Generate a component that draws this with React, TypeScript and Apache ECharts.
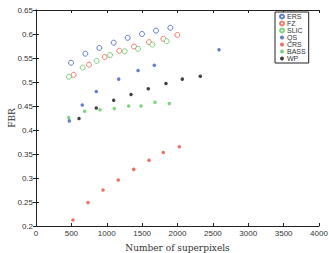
import React, { useEffect, useRef } from "react";
import * as echarts from "echarts";

// Superpixel counts and boundary recall (FBR) per method
const ersX = [495, 697, 895, 1098, 1296, 1498, 1696, 1899];
const ersY = [0.540, 0.559, 0.571, 0.582, 0.592, 0.600, 0.607, 0.613];

const fzX = [532, 749, 970, 1178, 1385, 1597, 1800, 1998];
const fzY = [0.515, 0.536, 0.552, 0.565, 0.574, 0.583, 0.590, 0.598];

const slicX = [466, 660, 857, 1046, 1253, 1442, 1644, 1847];
const slicY = [0.511, 0.530, 0.544, 0.556, 0.564, 0.569, 0.578, 0.585];

const qsX = [471, 654, 852, 1169, 1442, 1672, 2587];
const qsY = [0.419, 0.452, 0.480, 0.506, 0.524, 0.535, 0.567];

const crsX = [523, 735, 947, 1163, 1381, 1597, 1799, 2025];
const crsY = [0.2125, 0.249, 0.275, 0.296, 0.318, 0.337, 0.353, 0.365];

const bassX = [462, 688, 905, 1107, 1310, 1484, 1682, 1884];
const bassY = [0.426, 0.439, 0.442, 0.445, 0.450, 0.450, 0.458, 0.455];

const wpX = [608, 852, 1098, 1343, 1587, 1837, 2068, 2322];
const wpY = [0.424, 0.446, 0.462, 0.474, 0.486, 0.497, 0.506, 0.512];

const legendNames = ["ERS", "FZ", "SLIC", "QS", "CRS", "BASS", "WP"];

const pairs = (xs: number[], ys: number[]) => xs.map((x, i) => [x, ys[i]]);

export default function App() {
  const ref = useRef<HTMLDivElement>(null);

  useEffect(() => {
    if (!ref.current) return;
    const chart = echarts.init(ref.current, undefined, { renderer: "svg" });

    const axisColor = "#222";
    const sans = "Liberation Sans, Arial, sans-serif";
    const serif = "DejaVu Serif, Liberation Serif, serif";

    const hollow = (name: string, xs: number[], ys: number[], color: string) => ({
      name,
      type: "scatter",
      data: pairs(xs, ys),
      symbol: "circle",
      symbolSize: 5,
      itemStyle: { color: "#fff", borderColor: color, borderWidth: 1 },
    });
    const dot = (name: string, xs: number[], ys: number[], color: string) => ({
      name,
      type: "scatter",
      data: pairs(xs, ys),
      symbol: "circle",
      symbolSize: 3.5,
      itemStyle: { color },
    });

    chart.setOption({
      animation: false,
      backgroundColor: "#fff",
      grid: {
        left: 36,
        right: 10,
        top: 10,
        bottom: 27,
        containLabel: false,
        outerBoundsMode: "none",
      },
      legend: {
        left: 275,
        top: 12,
        orient: "vertical",
        itemWidth: 4,
        itemHeight: 4,
        itemGap: 0,
        padding: [1, 3, 1, 4],
        borderColor: "#222",
        borderWidth: 1,
        backgroundColor: "#fff",
        textStyle: {
          fontSize: 7,
          fontFamily: sans,
          color: "#333",
          lineHeight: 7,
          padding: [0, 0, 0, -2],
        },
        data: legendNames,
      },
      xAxis: [
        {
          type: "value",
          min: 0,
          max: 4000,
          interval: 500,
          name: "Number of superpixels",
          nameLocation: "middle",
          nameGap: 17,
          nameMoveOverlap: false,
          nameTextStyle: { fontFamily: serif, fontSize: 9, color: "#333" },
          axisLine: { lineStyle: { color: axisColor } },
          axisTick: { inside: true, length: 3, lineStyle: { color: axisColor } },
          axisLabel: {
            fontSize: 8,
            fontFamily: sans,
            color: "#333",
            margin: 3,
            formatter: (v: number) => String(v),
          },
          splitLine: { show: false },
        },
        {
          type: "value",
          position: "top",
          min: 0,
          max: 4000,
          interval: 500,
          axisLine: { show: true, lineStyle: { color: axisColor } },
          axisTick: { inside: true, length: 3, lineStyle: { color: axisColor } },
          axisLabel: { show: false },
          splitLine: { show: false },
        },
      ],
      yAxis: [
        {
          type: "value",
          min: 0.2,
          max: 0.65,
          interval: 0.05,
          name: "FBR",
          nameLocation: "middle",
          nameGap: 20,
          nameMoveOverlap: false,
          nameTextStyle: { fontFamily: serif, fontSize: 9, color: "#333" },
          axisLine: { show: true, lineStyle: { color: axisColor } },
          axisTick: { show: true, inside: true, length: 3, lineStyle: { color: axisColor } },
          axisLabel: {
            fontSize: 8,
            fontFamily: sans,
            color: "#333",
            margin: 3,
            formatter: (v: number) => String(parseFloat(v.toFixed(2))),
          },
          splitLine: { show: false },
        },
        {
          type: "value",
          position: "right",
          min: 0.2,
          max: 0.65,
          interval: 0.05,
          axisLine: { show: true, lineStyle: { color: axisColor } },
          axisTick: { show: true, inside: true, length: 3, lineStyle: { color: axisColor } },
          axisLabel: { show: false },
          splitLine: { show: false },
        },
      ],
      series: [
        hollow("ERS", ersX, ersY, "#3a5cc4"),
        hollow("FZ", fzX, fzY, "#ec5a4a"),
        hollow("SLIC", slicX, slicY, "#5cc85c"),
        dot("QS", qsX, qsY, "#3a5cc4"),
        dot("CRS", crsX, crsY, "#ec4a3a"),
        dot("BASS", bassX, bassY, "#5cc85c"),
        dot("WP", wpX, wpY, "#111"),
      ],
    });

    return () => chart.dispose();
  }, []);

  return (
    <div
      ref={ref}
      style={{ position: "fixed", left: 0, top: 0, width: 329, height: 253 }}
    />
  );
}
